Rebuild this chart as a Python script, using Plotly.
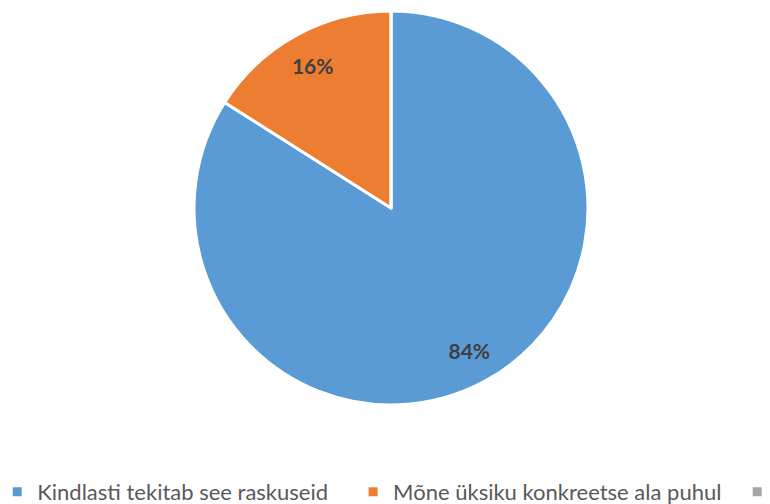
import plotly.graph_objects as go

labels = ["Kindlasti tekitab see raskuseid", "Mõne üksiku konkreetse ala puhul", "Ei tekita raskusi"]
values = [84, 16, 0]
colors = ["#5B9BD5", "#ED7D31", "#A5A5A5"]

DOMAIN = dict(x=[0.2416, 0.7532], y=[0.2123, 0.994])

fig = go.Figure()

# main pie
fig.add_trace(go.Pie(
    labels=labels, values=values, sort=False,
    direction="clockwise", rotation=0,
    marker=dict(colors=colors, line=dict(color="white", width=3)),
    textinfo="none", domain=DOMAIN, showlegend=False,
    hoverinfo="label+percent",
))

# transparent ring overlay to place percentage labels at ~0.82 r
fig.add_trace(go.Pie(
    labels=labels[:2], values=values[:2], sort=False,
    direction="clockwise", rotation=0, hole=0.65,
    marker=dict(colors=["rgba(0,0,0,0)"] * 2, line=dict(width=0)),
    textinfo="percent", texttemplate="%{percent:.0%}",
    textposition="inside", insidetextorientation="horizontal",
    textfont=dict(family="Lato", size=21, color="#404040", weight="bold"),
    domain=DOMAIN, showlegend=False, hoverinfo="skip",
))

# legend entries, one legend per category so spacing matches the original
legend_ids = ["legend", "legend2", "legend3"]
for lab, col, lid in zip(labels, colors, legend_ids):
    fig.add_trace(go.Scatter(
        x=[None], y=[None], mode="markers", name=lab,
        marker=dict(symbol="square", size=9, color=col),
        legend=lid, hoverinfo="skip",
    ))

legend_font = dict(family="Lato", size=22, color="#595959")
common = dict(orientation="h", y=-0.002, xanchor="left", yanchor="bottom",
              font=legend_font, itemwidth=30, bgcolor="rgba(0,0,0,0)")

fig.update_layout(
    width=770, height=504,
    margin=dict(l=0, r=0, t=0, b=0, autoexpand=False),
    paper_bgcolor="white",
    plot_bgcolor="white",
    xaxis=dict(visible=False),
    yaxis=dict(visible=False),
    showlegend=True,
    legend=dict(x=-0.014, **common),
    legend2=dict(x=0.4482, **common),
    legend3=dict(x=0.947, **common),
)

fig.write_html("out.html")
